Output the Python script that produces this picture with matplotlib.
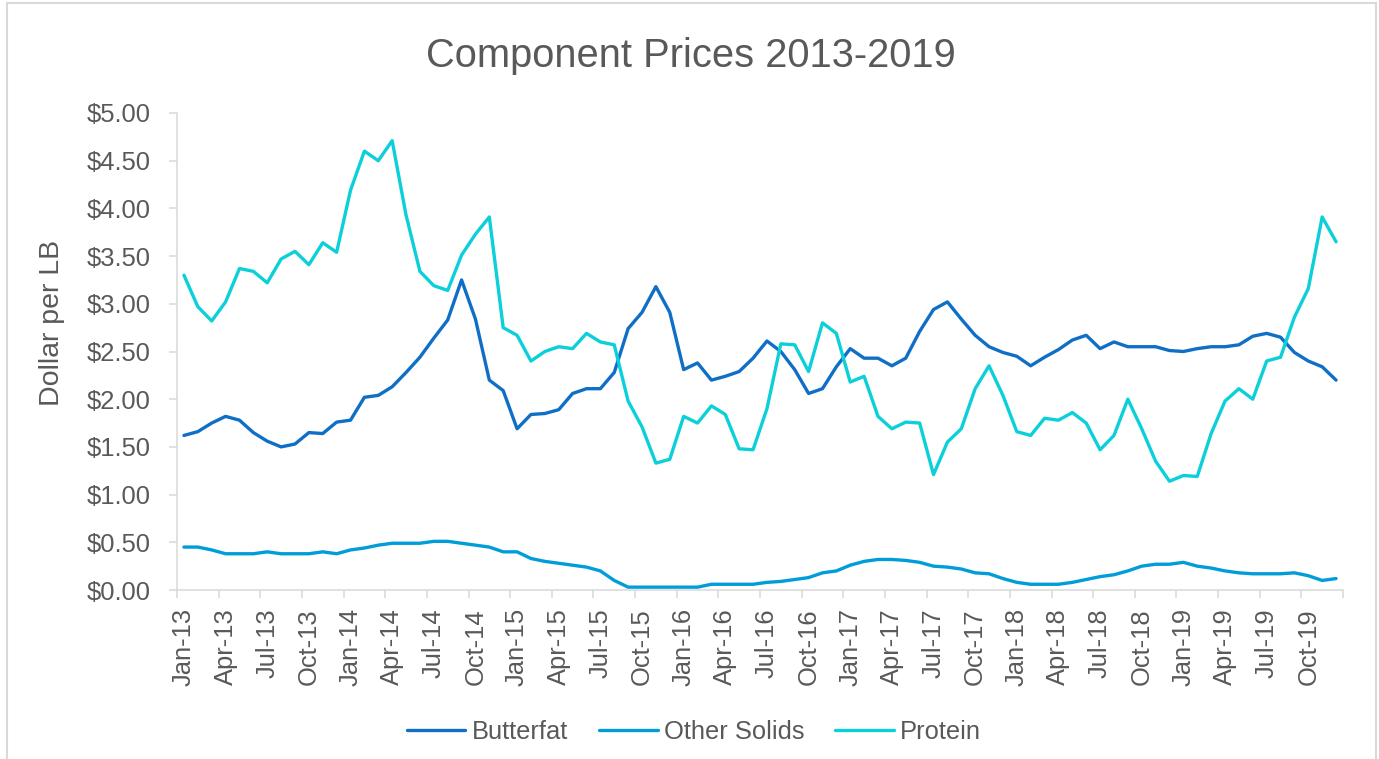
import numpy as np
import pandas as pd
import matplotlib
matplotlib.use("Agg")
import matplotlib.pyplot as plt
from matplotlib.patches import Rectangle
from matplotlib.ticker import FuncFormatter

plt.rcParams['font.family'] = ['Liberation Sans', 'DejaVu Sans']

# monthly categories Jan-13 .. Dec-19
months = pd.date_range('2013-01-01', periods=84, freq='MS')
month_labels = [m.strftime('%b-%y') for m in months]

butterfat = [1.62, 1.66, 1.75, 1.82, 1.78, 1.65, 1.56, 1.50, 1.53, 1.65, 1.64, 1.76,
             1.78, 2.02, 2.04, 2.13, 2.28, 2.44, 2.64, 2.83, 3.25, 2.84, 2.20, 2.09,
             1.69, 1.84, 1.85, 1.89, 2.06, 2.11, 2.11, 2.28, 2.74, 2.91, 3.18, 2.91,
             2.31, 2.38, 2.20, 2.24, 2.29, 2.43, 2.61, 2.50, 2.31, 2.06, 2.11, 2.34,
             2.53, 2.43, 2.43, 2.35, 2.43, 2.71, 2.94, 3.02, 2.84, 2.67, 2.55, 2.49,
             2.45, 2.35, 2.44, 2.52, 2.62, 2.67, 2.53, 2.60, 2.55, 2.55, 2.55, 2.51,
             2.50, 2.53, 2.55, 2.55, 2.57, 2.66, 2.69, 2.65, 2.49, 2.40, 2.34, 2.20]

other_solids = [0.45, 0.45, 0.42, 0.38, 0.38, 0.38, 0.40, 0.38, 0.38, 0.38, 0.40, 0.38,
                0.42, 0.44, 0.47, 0.49, 0.49, 0.49, 0.51, 0.51, 0.49, 0.47, 0.45, 0.40,
                0.40, 0.33, 0.30, 0.28, 0.26, 0.24, 0.20, 0.10, 0.03, 0.03, 0.03, 0.03,
                0.03, 0.03, 0.06, 0.06, 0.06, 0.06, 0.08, 0.09, 0.11, 0.13, 0.18, 0.20,
                0.26, 0.30, 0.32, 0.32, 0.31, 0.29, 0.25, 0.24, 0.22, 0.18, 0.17, 0.12,
                0.08, 0.06, 0.06, 0.06, 0.08, 0.11, 0.14, 0.16, 0.20, 0.25, 0.27, 0.27,
                0.29, 0.25, 0.23, 0.20, 0.18, 0.17, 0.17, 0.17, 0.18, 0.15, 0.10, 0.12]

protein = [3.30, 2.97, 2.82, 3.02, 3.37, 3.34, 3.22, 3.47, 3.55, 3.41, 3.64, 3.54,
           4.19, 4.60, 4.50, 4.71, 3.93, 3.34, 3.19, 3.14, 3.51, 3.73, 3.91, 2.75,
           2.67, 2.40, 2.50, 2.55, 2.53, 2.69, 2.60, 2.57, 1.98, 1.71, 1.33, 1.37,
           1.82, 1.75, 1.93, 1.84, 1.48, 1.47, 1.90, 2.58, 2.57, 2.29, 2.80, 2.69,
           2.18, 2.24, 1.82, 1.69, 1.76, 1.75, 1.21, 1.55, 1.69, 2.11, 2.35, 2.04,
           1.66, 1.62, 1.80, 1.78, 1.86, 1.75, 1.47, 1.62, 2.00, 1.69, 1.35, 1.14,
           1.20, 1.19, 1.64, 1.98, 2.11, 2.00, 2.40, 2.44, 2.86, 3.16, 3.91, 3.65]

series_names = ['Butterfat', 'Other Solids', 'Protein']
series_colors = ['#0F6FC6', '#009DD9', '#0BD0D9']

W, H = 1379, 759
fig = plt.figure(figsize=(W / 100, H / 100), dpi=100)
ax = fig.add_axes([177 / W, (H - 590) / H, (1343 - 177) / W, (590 - 113) / H])

x = np.arange(len(months))
for vals, name, col in zip([butterfat, other_solids, protein], series_names, series_colors):
    ax.plot(x, vals, color=col, lw=2.4, label=name,
            solid_joinstyle='round', solid_capstyle='round')

grey = '#D9D9D9'
text_col = '#595959'

ax.set_xlim(-0.5, len(months) - 0.5)
ax.set_ylim(0, 5)

# category labels every 3 months, tick marks between categories
ax.set_xticks(x[::3])
ax.set_xticklabels(month_labels[::3], rotation=90, fontsize=18.4, color=text_col)
ax.set_xticks(np.arange(-0.5, len(months), 3), minor=True)
ax.tick_params(axis='x', which='major', length=0, pad=13)
ax.tick_params(axis='x', which='minor', length=5.8, width=1.1, color=grey)

ax.set_yticks(np.arange(0, 5.01, 0.5))
ax.yaxis.set_major_formatter(FuncFormatter(lambda v, p: f'${v:.2f}'))
ax.tick_params(axis='y', length=5.8, width=1.1, color=grey, labelsize=18.4,
               labelcolor=text_col, pad=13.5)

for s in ['top', 'right']:
    ax.spines[s].set_visible(False)
for s in ['left', 'bottom']:
    ax.spines[s].set_color(grey)
    ax.spines[s].set_linewidth(1.1)

fig.text(52 / W, (H - 323) / H, 'Dollar per LB', rotation=90, ha='center', va='center',
         fontsize=20.5, color=text_col)
fig.text(691 / W, (H - 67) / H, 'Component Prices 2013-2019', ha='center', va='baseline',
         fontsize=28.7, color=text_col)

fig.legend(loc='center', bbox_to_anchor=(694 / W, (H - 732) / H), ncol=3, frameon=False,
           fontsize=18.4, handlelength=2.3, handletextpad=0.25, columnspacing=1.2,
           labelcolor=text_col)

# chart border
fig.patches.append(Rectangle((7 / W, -0.02), (1376 - 7) / W, (H - 3) / H + 0.02,
                             transform=fig.transFigure, fill=False, ec=grey, lw=1.5))

fig.savefig('out.png', dpi=100)
